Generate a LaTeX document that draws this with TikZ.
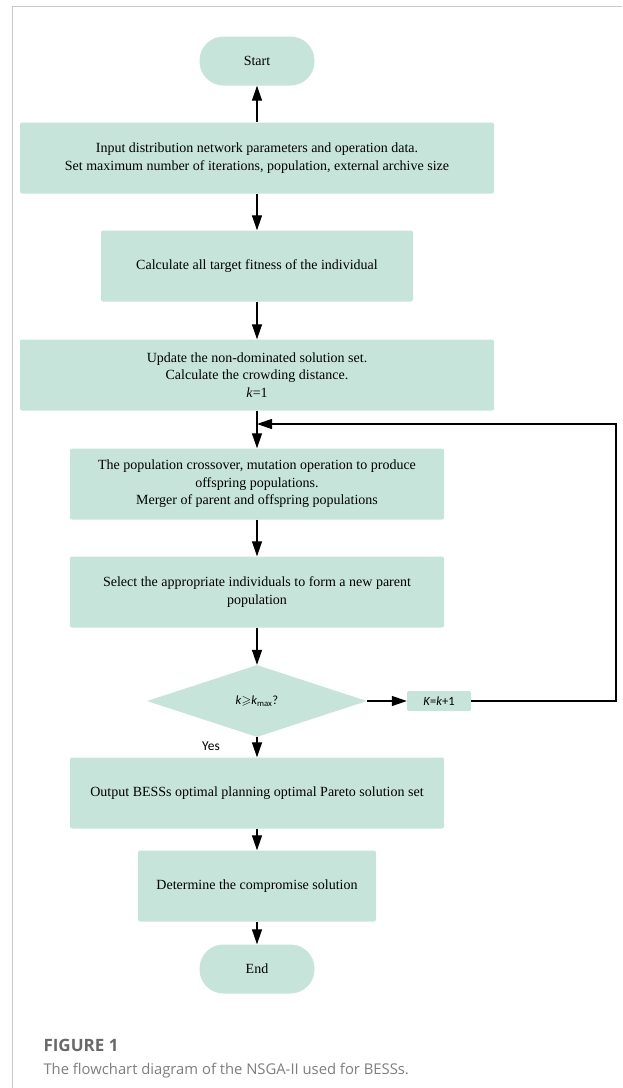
\documentclass[tikz,border=0pt]{standalone}
\usepackage{fontspec}
\usepackage{amssymb}
\setmainfont{Liberation Serif}
\newfontfamily\calibfont{Carlito}
\newfontfamily\capfont{Open Sans}
\usetikzlibrary{shapes.geometric,arrows.meta}
\definecolor{boxgreen}{RGB}{199,228,219}
\definecolor{framegray}{RGB}{200,200,200}
\definecolor{capgray}{RGB}{105,105,105}
\definecolor{textgray}{RGB}{125,125,125}

\begin{document}
\begin{tikzpicture}[x=1pt,y=-1pt]
\tikzstyle{box}=[fill=boxgreen,rounded corners=2pt,minimum height=71pt,align=center,inner sep=0pt,font=\fontsize{14}{17.5}\selectfont];
\tikzstyle{term}=[fill=boxgreen,rounded corners=24pt,minimum width=115pt,minimum height=49pt,font=\fontsize{14}{16}\selectfont];
\tikzstyle{decide}=[diamond,fill=boxgreen,minimum width=220pt,minimum height=72pt,inner sep=0pt,font=\calibfont\fontsize{12.5}{14}\selectfont];
\tikzstyle{arr}=[-{Triangle[length=15pt,width=10pt]},line width=1.3pt];
\useasboundingbox (0,0) rectangle (622,1088);

% frame
\draw[framegray,line width=1pt] (12,1088) -- (12,6) -- (622,6);

\node [term] (start) at (257,61) {Start};
\node [box,minimum width=474pt] (input) at (257,158) {Input distribution network parameters and operation data.\\Set maximum number of iterations, population, external archive size};
\node [box,minimum width=312pt] (calc) at (257,266) {Calculate all target fitness of the individual};
\node [box,minimum width=474pt] (update) at (257,375) {Update the non-dominated solution set.\\Calculate the crowding distance.\\\textit{k}=1};
\coordinate (join) at (257,424);
\node [box,minimum width=374pt] (cross) at (257,484) {The population crossover, mutation operation to produce\\offspring populations.\\Merger of parent and offspring populations};
\node [box,minimum width=374pt] (select) at (257,592) {Select the appropriate individuals to form a new parent\\population};
\node [decide] (check) at (257,701) {\textit{k}$\geqslant$\textit{k}\textsubscript{max}?};
\node [fill=boxgreen,rounded corners=1.5pt,minimum width=64pt,minimum height=20pt,inner sep=0pt,font=\calibfont\fontsize{12.5}{14}\selectfont] (inc) at (439,701) {\textit{K}=\textit{k}+1};
\coordinate (corner) at (616,424);
\node [font=\calibfont\fontsize{13.5}{15}\selectfont] (yes) at (211,746) {Yes};
\node [box,minimum width=374pt] (output) at (257,793) {Output BESSs optimal planning optimal Pareto solution set};
\node [box,minimum width=238pt] (comp) at (257,886) {Determine the compromise solution};
\node [term] (end) at (257,969) {End};

\draw[arr] (input) -- (start);
\draw[arr] (input) -- (calc);
\draw[arr] (calc) -- (update);
\draw[arr] (update) -- (cross);
\draw[arr] (cross) -- (select);
\draw[arr] (select) -- (check);
\draw[arr] (check) -- (inc);
\draw[arr] (inc) -| (corner) -- (join);
\draw[arr] (check) -- (output);
\draw[arr] (output) -- (comp);
\draw[arr] (comp) -- (end);

% caption
\node [anchor=base west,text=capgray,font=\capfont\bfseries\fontsize{17}{20}\selectfont] (figlabel) at (40,1051) {FIGURE 1};
\node [anchor=base west,text=textgray,font=\capfont\fontsize{14.8}{18}\selectfont] (figtext) at (40,1074) {The flowchart diagram of the NSGA-II used for BESSs.};
\end{tikzpicture}
\end{document}
